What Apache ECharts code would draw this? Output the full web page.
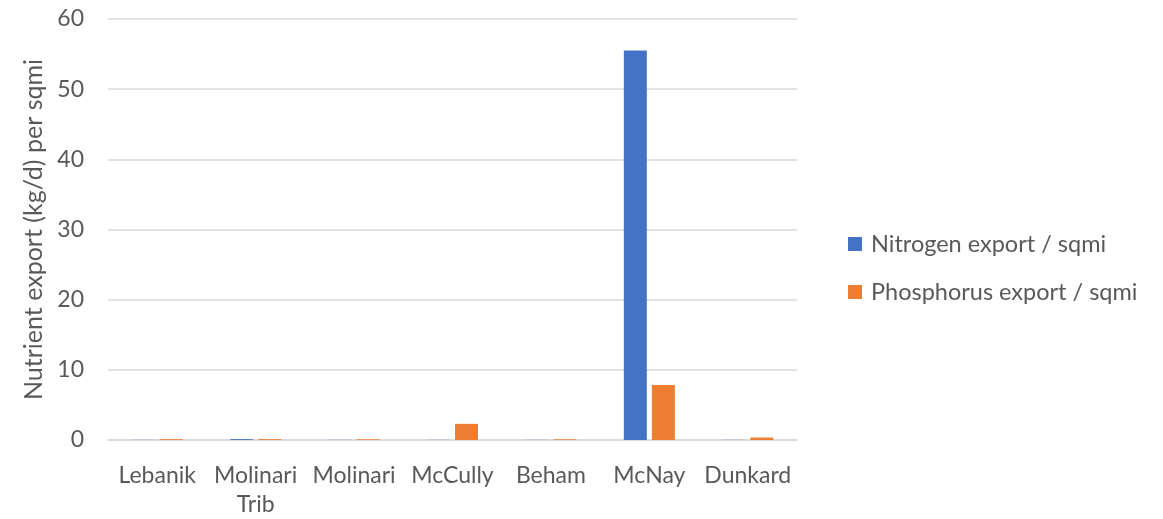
<!DOCTYPE html>
<html>
<head>
<meta charset="utf-8">
<script src="https://cdn.jsdelivr.net/npm/echarts@6/dist/echarts.min.js"></script>
<style>
  html, body { margin: 0; padding: 0; background: #fff; }
  #chart { width: 1163px; height: 519px; }
</style>
</head>
<body>
<div id="chart"></div>
<script>
// Sites along the watershed
const sites = ['Lebanik', 'Molinari Trib', 'Molinari', 'McCully', 'Beham', 'McNay', 'Dunkard'];
// Export per square mile, kg/d
const nitrogen = [0.02, 0.12, 0.02, 0.02, 0.02, 55.5, 0.02];
const phosphorus = [0.12, 0.12, 0.1, 2.3, 0.1, 7.85, 0.35];
const seriesNames = ['Nitrogen export / sqmi', 'Phosphorus export / sqmi'];
const yAxisTitle = 'Nutrient export (kg/d) per sqmi';

const FONT = 'Lato, "Open Sans", sans-serif';
const TEXT = '#595959';

const chart = echarts.init(document.getElementById('chart'));
chart.setOption({
  animation: false,
  textStyle: { fontFamily: FONT },
  grid: { left: 108, right: 366, top: 19, bottom: 77 },
  legend: {
    orient: 'vertical',
    left: 843,
    top: 227,
    itemWidth: 14,
    itemHeight: 14,
    itemGap: 24,
    icon: 'rect',
    textStyle: { fontFamily: FONT, fontSize: 23.5, color: TEXT, padding: [0, 0, 0, 4] },
    data: seriesNames
  },
  xAxis: {
    type: 'category',
    data: sites,
    axisLine: { lineStyle: { color: '#d9d9d9', width: 1.5 } },
    axisTick: { show: false },
    axisLabel: {
      fontFamily: FONT, fontSize: 23, color: TEXT, margin: 21,
      lineHeight: 29, interval: 0,
      formatter: v => v.replace(' ', '\n')
    }
  },
  yAxis: {
    type: 'value',
    min: 0, max: 60, interval: 10,
    name: yAxisTitle,
    nameLocation: 'middle',
    nameGap: 61,
    nameRotate: 90,
    nameTextStyle: { fontFamily: FONT, fontSize: 25, color: TEXT },
    axisLine: { show: false },
    axisTick: { show: false },
    axisLabel: { fontFamily: FONT, fontSize: 23, color: TEXT, margin: 24 },
    splitLine: { lineStyle: { color: '#d9d9d9', width: 1.5 } }
  },
  series: [
    { name: seriesNames[0], type: 'bar', data: nitrogen, barWidth: 23, barGap: '22%',
      itemStyle: { color: '#4472c4' } },
    { name: seriesNames[1], type: 'bar', data: phosphorus, barWidth: 23,
      itemStyle: { color: '#ed7d31' } }
  ]
});
</script>
</body>
</html>
